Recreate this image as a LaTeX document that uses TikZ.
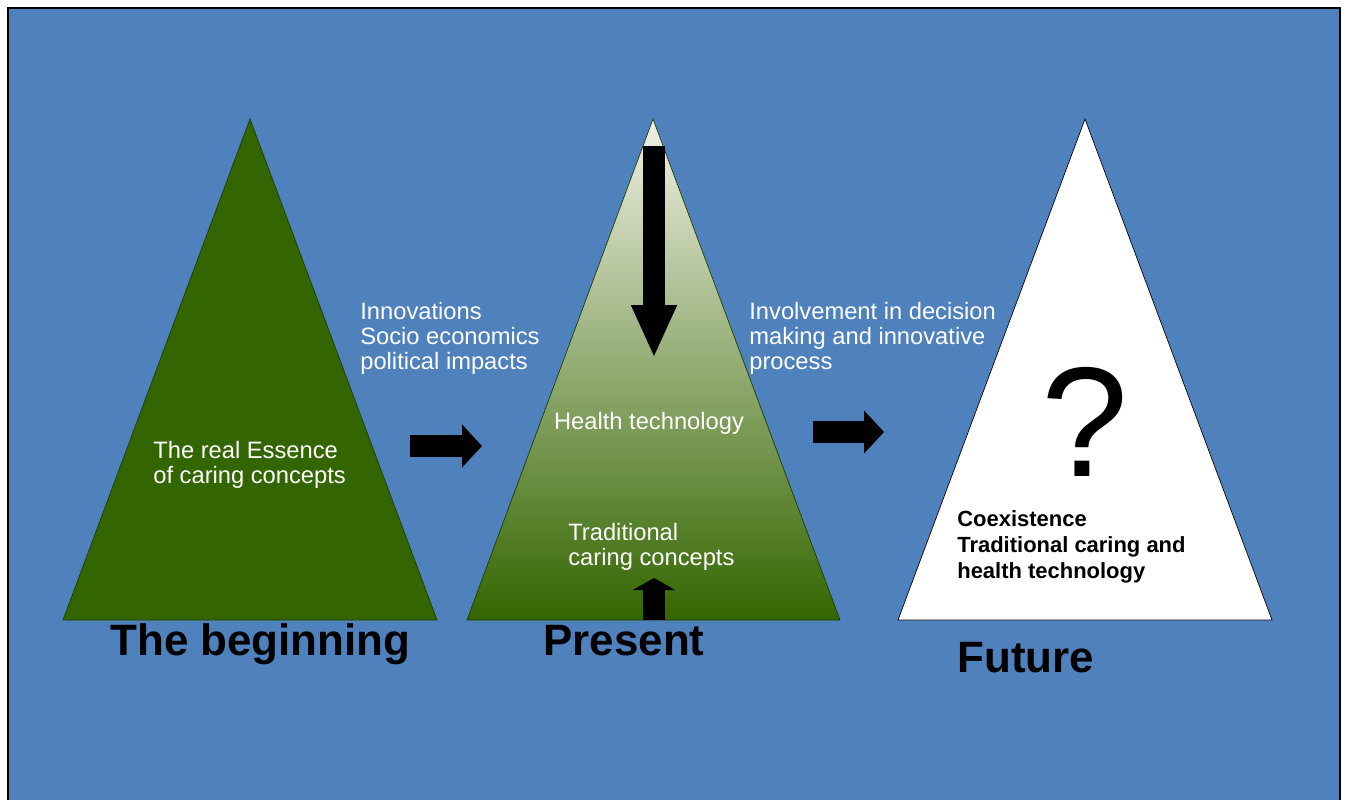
\documentclass[tikz,border=0pt]{standalone}
\usepackage{fontspec}
\setmainfont{Liberation Sans}
\usepackage{xcolor}
\usepackage{tikz}
\usetikzlibrary{positioning, arrows.meta}

\definecolor{slideblue}{RGB}{79,129,189}
\definecolor{leafgreen}{RGB}{51,102,0}
\definecolor{paleleaf}{RGB}{240,240,228}
\definecolor{midleaf}{RGB}{186,188,166}

\begin{document}
\begin{tikzpicture}[x=0.02cm, y=-0.02cm,
    whitetext/.style={text=white, font=\fontsize{13.5}{14.2}\selectfont, align=left, inner sep=0, anchor=north west},
    darktext/.style={text=black, font=\bfseries\fontsize{12.5}{14.8}\selectfont, align=left, inner sep=0, anchor=north west},
    era/.style={text=black, font=\bfseries\fontsize{25}{25}\selectfont, inner sep=0, anchor=base west},
    blockarrow/.style={black, line width=0.44cm}]
        \useasboundingbox (0,0) rectangle (1345,800);
        \fill[white] (0,0) rectangle (1345,800);
        \fill[slideblue] (8,8) rectangle (1340,800);
        \draw[line width=1.2pt] (8,800) -- (8,8) -- (1340,8) -- (1340,800);

        % The three triangles
        \filldraw[fill=leafgreen, draw=leafgreen!60!black] (250,119) -- (437,620) -- (63,620) -- cycle;
        \shade[top color=paleleaf, middle color=midleaf, bottom color=leafgreen] (653,119) -- (840,620) -- (467,620) -- cycle;
        \draw[leafgreen!60!black] (653,119) -- (840,620) -- (467,620) -- cycle;
        \filldraw[fill=white, draw=black] (1085,119) -- (1272,620) -- (898,620) -- cycle;

        % Arrows
        \coordinate (goA) at (410,446);
        \coordinate (toA) at (482,446);
        \coordinate (goB) at (813,432);
        \coordinate (toB) at (884,432);
        \coordinate (techTop) at (654,146);
        \coordinate (techTip) at (654,358);
        \coordinate (tradBase) at (654,620);
        \coordinate (tradTip) at (654,578);
        \draw[blockarrow, -{Triangle[width=0.84cm, length=0.4cm]}] (goA) -- (toA);
        \draw[blockarrow, -{Triangle[width=0.84cm, length=0.4cm]}] (goB) -- (toB);
        \draw[blockarrow, -{Triangle[width=0.84cm, length=1.06cm]}] (techTop) -- (techTip);
        \draw[blockarrow, -{Triangle[width=0.84cm, length=0.24cm]}] (tradBase) -- (tradTip);

        % Texts
        \node[whitetext] (impacts) at (360,302) {Innovations\\Socio economics\\political impacts};
        \node[whitetext] (involve) at (749,302) {Involvement in decision\\making and innovative\\process};
        \node[whitetext] (essence) at (153,441) {The real Essence\\of caring concepts};
        \node[whitetext, anchor=north] (healthtech) at (649,412) {Health technology};
        \node[whitetext] (tradcare) at (568,523) {Traditional\\caring concepts};
        \node[darktext] (coexist) at (957,510) {Coexistence\\Traditional caring and\\health technology};
        \node[font=\fontsize{89}{89}\selectfont, inner sep=0] (unknown) at (1085,422) {?};

        % Labels under the triangles
        \node[era] (beginning) at (110,655) {The beginning};
        \node[era] (present) at (543,655) {Present};
        \node[era] (future) at (957,672) {Future};
    \end{tikzpicture}
\end{document}
